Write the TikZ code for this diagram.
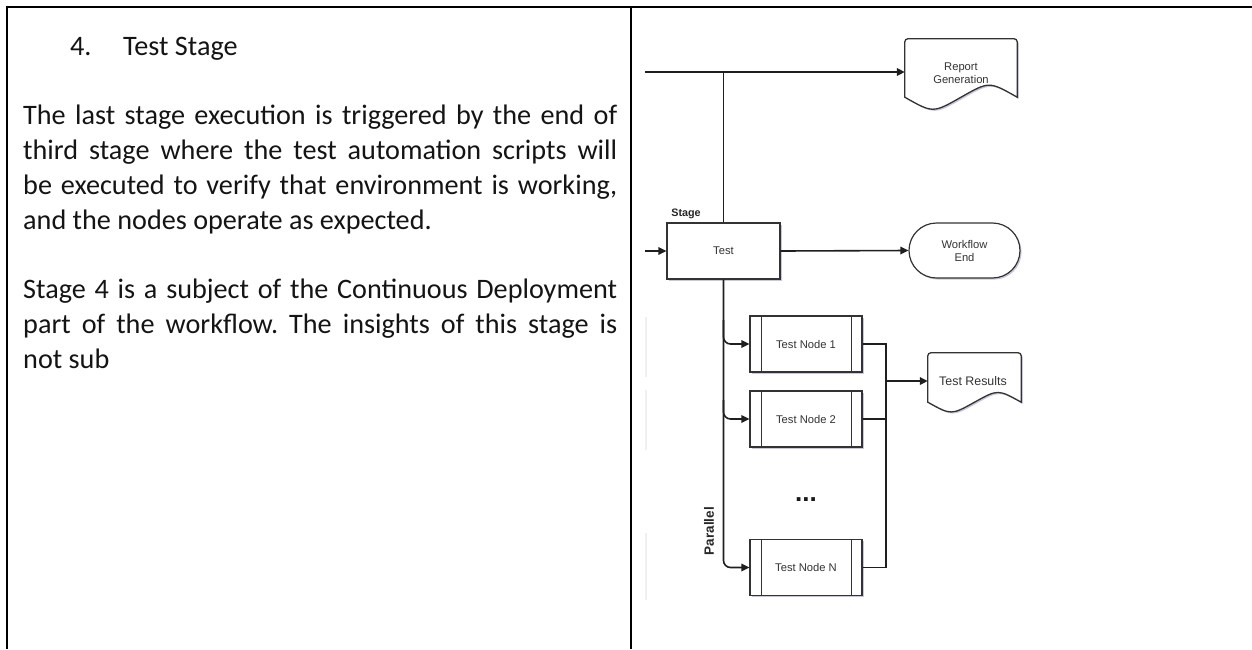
\documentclass[tikz,border=0pt]{standalone}
\usepackage{fontspec}
\setmainfont{Carlito}
\newfontfamily\diafont{Liberation Sans}
\usetikzlibrary{arrows.meta,shapes.misc,shadows,calc}
\frenchspacing

% wavy-bottom document outline drawn around an empty node
% #1 node name, #2 wave amplitude
\newcommand\docoutline[2]{%
  \draw[docline]
    (#1.south west) [rounded corners=3pt] -- (#1.north west) -- (#1.north east)
    [sharp corners] -- (#1.south east)
    .. controls ($(#1.south east)!0.5!(#1.south)+(0,-2*#2)$) .. (#1.south)
    .. controls ($(#1.south)!0.5!(#1.south west)+(0,2*#2)$) .. (#1.south west)
    -- cycle;}

\tikzset{
  body/.style={inner sep=0pt, anchor=base west, text=black!92,
    font=\fontsize{28.2}{34.8}\selectfont},
  rule/.style={line width=2.4pt, black},
  shade/.style={drop shadow={shadow xshift=1.6pt, shadow yshift=-1.6pt,
    fill=blue!40!black, opacity=0.22}},
  boxline/.style={draw=black!80, line width=1.2pt, fill=white, shade},
  stagebox/.style={boxline, rectangle, minimum width=113pt, minimum height=56pt,
    inner sep=0pt, text=black!80, font=\diafont\fontsize{11.2}{13.5}\selectfont},
  endbox/.style={boxline, rounded rectangle, minimum width=111pt, minimum height=55pt,
    inner sep=0pt, align=center, text=black!80,
    font=\diafont\fontsize{11.2}{13}\selectfont},
  procbox/.style={boxline, rectangle, minimum width=112pt, minimum height=56pt,
    inner sep=0pt, text=black!80, font=\diafont\fontsize{11.2}{13.5}\selectfont,
    path picture={
      \draw[black!80, line width=1pt]
        ([xshift=11pt]path picture bounding box.north west) --
        ([xshift=11pt]path picture bounding box.south west)
        ([xshift=-11pt]path picture bounding box.north east) --
        ([xshift=-11pt]path picture bounding box.south east);}},
  docframe/.style={draw=none, rectangle, inner sep=0pt},
  docline/.style={draw=black!80, line width=1.3pt, fill=white, shade},
  doctext/.style={inner sep=0pt, align=center, text=black!80,
    font=\diafont\fontsize{11.2}{12.5}\selectfont},
  tag/.style={inner sep=0pt, text=black!85,
    font=\diafont\bfseries\fontsize{10.8}{12}\selectfont},
  line/.style={draw=black!88, line width=1.6pt},
  conn/.style={line, -{Triangle[length=8pt, width=7.5pt]}},
  faint/.style={draw=black!6, line width=1.4pt}
}

\begin{document}
\begin{tikzpicture}[x=1pt, y=-1pt]
\useasboundingbox (0,0) rectangle (1252,649);

% ---- table frame ----
\draw[rule] (5.8,7) -- (1252,7);
\draw[rule] (7,5.8) -- (7,649);
\draw[rule] (631,5.8) -- (631,649);

% ---- left column: description ----
\node[body] (num) at (70,55) {4.};
\node[body] (head) at (123,55) {Test Stage};

\node[body] (l1) at (23,124.6)
  {\makebox[594pt][s]{The last stage execution is triggered by the end of}};
\node[body] (l2) at (23,159.4)
  {\makebox[594pt][s]{third stage where the test automation scripts will}};
\node[body] (l3) at (23,194.2)
  {\makebox[594pt][s]{be executed to verify that environment is working,}};
\node[body] (l4) at (23,229) {and the nodes operate as expected.};

\node[body] (m1) at (23,298.6)
  {\makebox[594pt][s]{Stage 4 is a subject of the Continuous Deployment}};
\node[body] (m2) at (23,333.4)
  {\makebox[594pt][s]{part of the workflow. The insights of this stage is}};
\node[body] (m3) at (23,368.2) {not sub};

% ---- right column: workflow diagram ----
% remnants of neighbouring shapes at the cut edge
\draw[faint] (646,317) -- (646,377);
\draw[faint] (646,390) -- (646,450);
\draw[faint] (646,533) -- (646,600);

\node[docframe, minimum width=112pt, minimum height=58pt] (report) at (961,68) {};
\docoutline{report}{8}
\node[doctext] (reporttext) at (961,73) {Report\\Generation};

\node[stagebox] (test) at (723.5,251) {Test};
\node[tag] (stagetag) at (686,214) {Stage};

\node[endbox] (wend) at (964.5,250.5) {Workflow\\End};

\node[procbox] (n1) at (806,344) {Test Node 1};
\node[procbox] (n2) at (806,419) {Test Node 2};
\node[procbox] (nN) at (806,567.5) {Test Node N};

\node[inner sep=0pt, text=black!90, font=\diafont\bfseries\fontsize{26}{26}\selectfont,
  anchor=base] (dots) at (806,501) {...};
\node[tag, rotate=90, font=\diafont\bfseries\fontsize{13.5}{14}\selectfont] (par) at (709,531) {Parallel};

\node[docframe, minimum width=93pt, minimum height=49pt] (results) at (974.5,377.5) {};
\docoutline{results}{6.5}
\node[doctext, font=\diafont\fontsize{12.4}{14}\selectfont] (resultstext) at (973,381) {Test Results};

% connectors
\coordinate (topin) at (645,72);
\coordinate (leftin) at (645,251);
\coordinate (b1) at (723.5,320);
\coordinate (b2) at (723.5,400);
\coordinate (mx) at (886,381);

\draw[conn, line width=2.1pt] (topin) -- (topin -| report.west);
\draw[line, line width=1.9pt] (test.north) -- (test.north |- topin);
\draw[conn] (leftin) -- (test.west);
\draw[conn] (test.east) -- (wend.west);

\draw[conn, rounded corners=7pt] (test.south) |- (nN.west);
\draw[conn, rounded corners=7pt] (b1) |- (n1.west);
\draw[conn, rounded corners=7pt] (b2) |- (n2.west);

\draw[line] (n1.east) -- (n1.east -| mx) -- (nN.east -| mx) -- (nN.east);
\draw[line] (n2.east) -- (n2.east -| mx);
\draw[conn] (mx) -- (mx -| results.west);
\end{tikzpicture}
\end{document}
